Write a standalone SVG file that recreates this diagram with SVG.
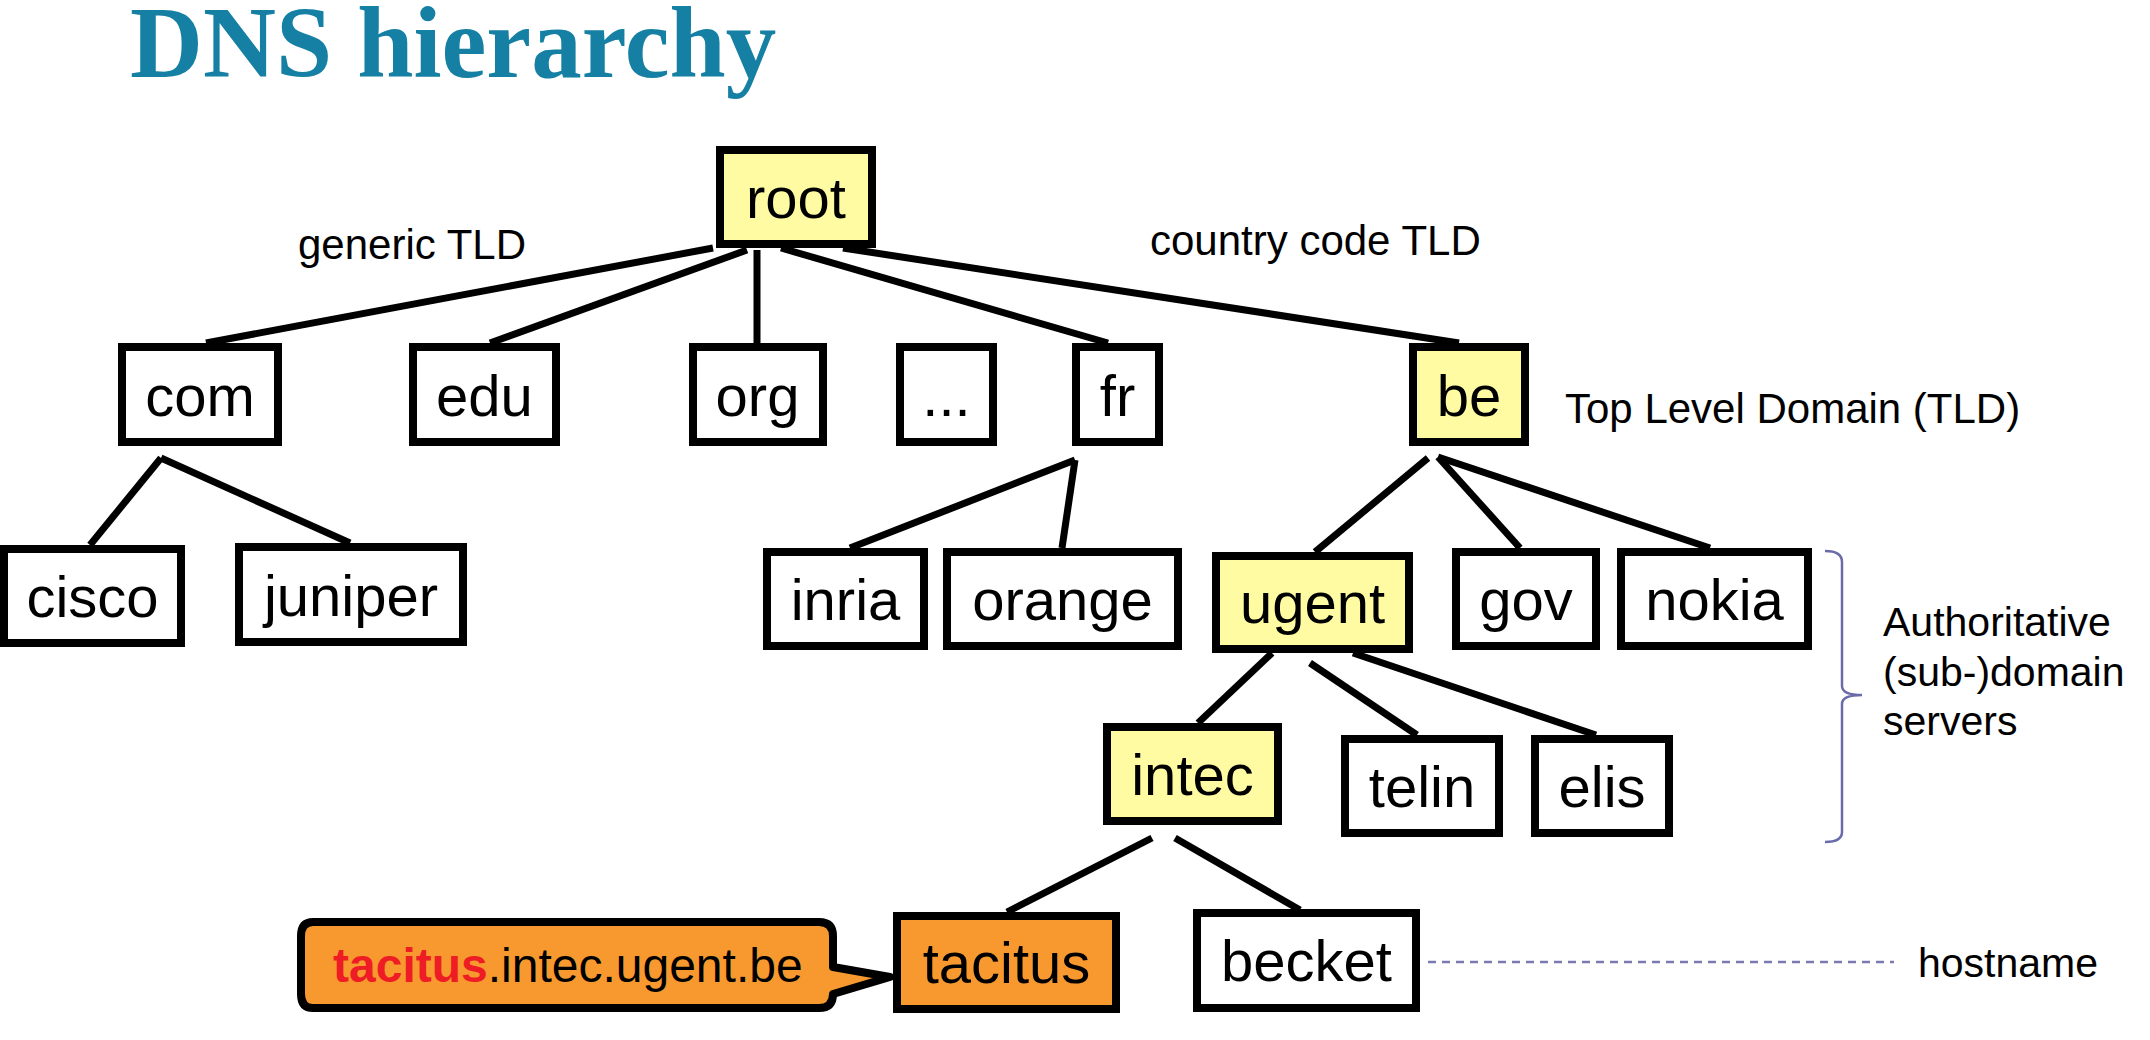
<svg xmlns="http://www.w3.org/2000/svg" width="2150" height="1040" viewBox="0 0 2150 1040">
<style>
.box{fill:#ffffff;stroke:#000;stroke-width:8}
.yel{fill:#fffba3}
.org{fill:#f8992f}
.lbl{font-family:"Liberation Sans",Arial,sans-serif;font-size:58px;fill:#000;text-anchor:middle}
.note{font-family:"Liberation Sans",Arial,sans-serif;font-size:42px;fill:#000}
.side{font-family:"Liberation Sans",Arial,sans-serif;font-size:41px;fill:#000}
.conn line{stroke:#000;stroke-width:7;stroke-linecap:butt}
</style>
<rect x="0" y="0" width="2150" height="1040" fill="#ffffff"/>
<text x="130" y="77" font-family="'Liberation Serif','Times New Roman',serif" font-weight="bold" font-size="101" fill="#1580a3">DNS hierarchy</text>

<g id="connectors" class="conn">
<line x1="713" y1="248" x2="206" y2="343"/>
<line x1="747" y1="250" x2="490" y2="343"/>
<line x1="757" y1="250" x2="757" y2="343"/>
<line x1="781" y1="248" x2="1108" y2="343"/>
<line x1="843" y1="248" x2="1459" y2="343"/>
<line x1="161" y1="458" x2="90" y2="545"/>
<line x1="161" y1="458" x2="350" y2="543"/>
<line x1="1075" y1="460" x2="850" y2="548"/>
<line x1="1075" y1="460" x2="1062" y2="548"/>
<line x1="1428" y1="458" x2="1315" y2="552"/>
<line x1="1438" y1="457" x2="1520" y2="548"/>
<line x1="1438" y1="457" x2="1710" y2="548"/>
<line x1="1272" y1="653" x2="1198" y2="723"/>
<line x1="1310" y1="663" x2="1417" y2="735"/>
<line x1="1353" y1="653" x2="1596" y2="735"/>
<line x1="1152" y1="838" x2="1007" y2="912"/>
<line x1="1175" y1="838" x2="1300" y2="910"/>
</g>

<g id="root"><rect class="box yel" x="720" y="150" width="152" height="94"/><text class="lbl" x="796" y="218">root</text></g>
<g id="com"><rect class="box" x="122" y="347" width="156" height="95"/><text class="lbl" x="200" y="416">com</text></g>
<g id="edu"><rect class="box" x="413" y="347" width="143" height="95"/><text class="lbl" x="484.5" y="416">edu</text></g>
<g id="org"><rect class="box" x="693" y="347" width="130" height="95"/><text class="lbl" x="757.5" y="416">org</text></g>
<g id="dots"><rect class="box" x="900" y="347" width="93" height="95"/><text class="lbl" x="946.5" y="416">...</text></g>
<g id="fr"><rect class="box" x="1076" y="347" width="83" height="95"/><text class="lbl" x="1117.5" y="416">fr</text></g>
<g id="be"><rect class="box yel" x="1413" y="347" width="112" height="95"/><text class="lbl" x="1469" y="416">be</text></g>

<g id="cisco"><rect class="box" x="4" y="549" width="177" height="94"/><text class="lbl" x="92.5" y="617">cisco</text></g>
<g id="juniper"><rect class="box" x="239" y="547" width="224" height="95"/><text class="lbl" x="351" y="616">juniper</text></g>
<g id="inria"><rect class="box" x="767" y="552" width="157" height="94"/><text class="lbl" x="845.5" y="620">inria</text></g>
<g id="orange"><rect class="box" x="947" y="552" width="231" height="94"/><text class="lbl" x="1062.5" y="620">orange</text></g>
<g id="ugent"><rect class="box yel" x="1216" y="556" width="193" height="93"/><text class="lbl" x="1312.5" y="623">ugent</text></g>
<g id="gov"><rect class="box" x="1456" y="552" width="140" height="94"/><text class="lbl" x="1526" y="620">gov</text></g>
<g id="nokia"><rect class="box" x="1621" y="552" width="187" height="94"/><text class="lbl" x="1714.5" y="620">nokia</text></g>

<g id="intec"><rect class="box yel" x="1107" y="727" width="171" height="94"/><text class="lbl" x="1192.5" y="795">intec</text></g>
<g id="telin"><rect class="box" x="1345" y="739" width="154" height="94"/><text class="lbl" x="1422" y="807">telin</text></g>
<g id="elis"><rect class="box" x="1535" y="739" width="134" height="94"/><text class="lbl" x="1602" y="807">elis</text></g>

<g id="tacitus"><rect class="box org" x="897" y="916" width="219" height="93"/><text class="lbl" x="1006.5" y="983">tacitus</text></g>
<g id="becket"><rect class="box" x="1197" y="913" width="219" height="95"/><text class="lbl" x="1306.5" y="981">becket</text></g>

<g id="callout">
<path d="M 313,922 H 819 Q 833,922 833,936 V 967 L 890,977 L 833,994 V 994 Q 833,1008 819,1008 H 313 Q 301,1008 301,994 V 936 Q 301,922 313,922 Z" fill="#f8992f" stroke="#000" stroke-width="8" stroke-linejoin="round"/>
<text x="333" y="982" font-family="'Liberation Sans',Arial,sans-serif" font-size="48" fill="#000"><tspan font-weight="bold" fill="#ee1c24">tacitus</tspan>.intec.ugent.be</text>
</g>

<g id="labels">
<text class="note" x="298" y="259">generic TLD</text>
<text class="note" x="1150" y="255">country code TLD</text>
<text class="note" x="1565" y="423">Top Level Domain (TLD)</text>
<text class="side" x="1883" y="636">Authoritative</text>
<text class="side" x="1883" y="686">(sub-)domain</text>
<text class="side" x="1883" y="735">servers</text>
<text class="side" x="1918" y="977">hostname</text>
</g>

<g id="brace" fill="none" stroke="#6b6bab" stroke-width="2.5">
<path d="M 1825,551 Q 1842,551 1842,562 V 686 Q 1842,695 1862,695 Q 1842,695 1842,704 V 832 Q 1842,842 1825,842"/>
</g>
<line id="hostline" x1="1428" y1="962" x2="1894" y2="962" stroke="#7a7ab0" stroke-width="2.5" stroke-dasharray="8 6"/>
</svg>
